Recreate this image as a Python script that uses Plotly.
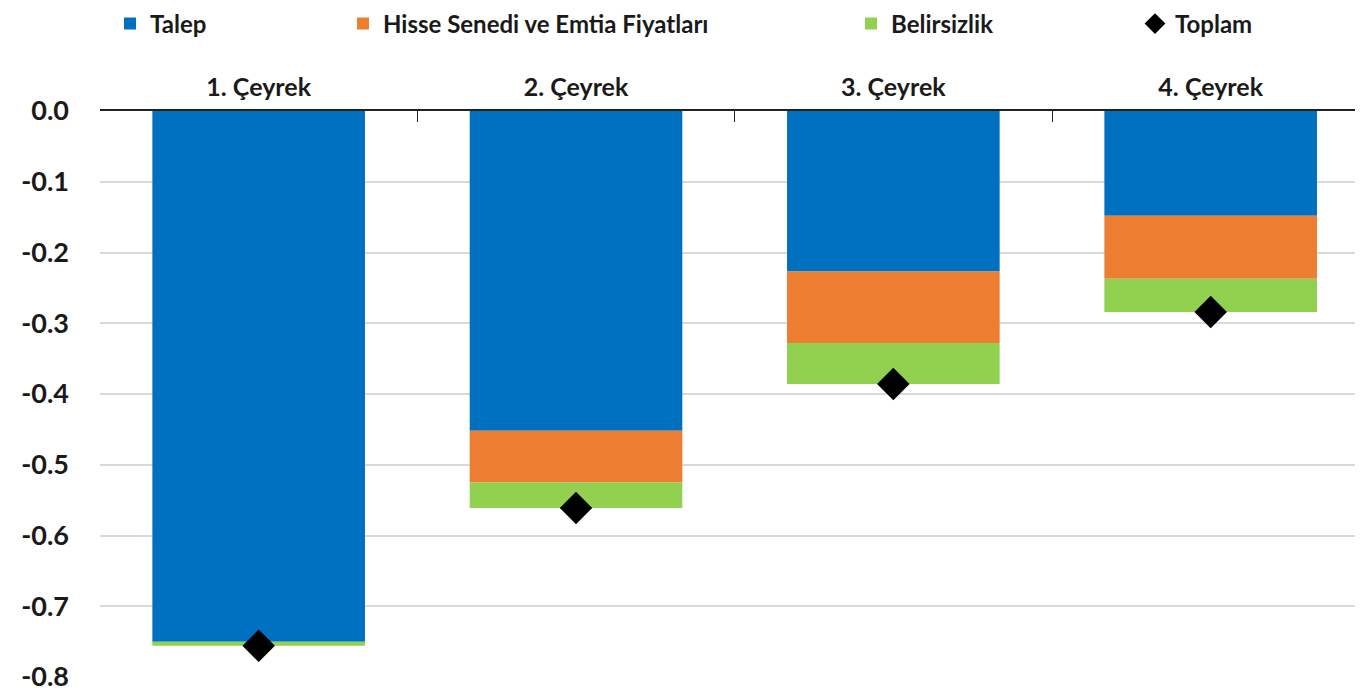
import plotly.graph_objects as go

categories = ["1. Çeyrek", "2. Çeyrek", "3. Çeyrek", "4. Çeyrek"]
talep = [-0.750, -0.452, -0.227, -0.148]
hisse = [0.000, -0.073, -0.101, -0.089]
belirsizlik = [-0.006, -0.036, -0.058, -0.047]
toplam = [-0.756, -0.561, -0.386, -0.284]
y_ticks = [0.0, -0.1, -0.2, -0.3, -0.4, -0.5, -0.6, -0.7, -0.8]
y_labels = ["0.0", "-0.1", "-0.2", "-0.3", "-0.4", "-0.5", "-0.6", "-0.7", "-0.8"]

FONT = "Lato, 'Open Sans', sans-serif"

fig = go.Figure()
fig.add_trace(go.Bar(x=categories, y=talep, name="Talep", marker_color="#0070C0",
                     marker_line_width=0, width=0.67, legend="legend"))
fig.add_trace(go.Bar(x=categories, y=hisse, name="Hisse Senedi ve Emtia Fiyatları",
                     marker_color="#ED7D31", marker_line_width=0, width=0.67, legend="legend2"))
fig.add_trace(go.Bar(x=categories, y=belirsizlik, name="Belirsizlik", marker_color="#92D050",
                     marker_line_width=0, width=0.67, legend="legend3"))
fig.add_trace(go.Scatter(x=categories, y=toplam, name="Toplam", mode="markers",
                         marker=dict(symbol="diamond", size=25, color="black"),
                         legend="legend4"))

# figure is offset by the page's 8px body margin; plot area spans 100..1363 x 111..677 on screen
W, H = 1355, 686
L, T, R, B = 92, 103, 0, 17
pw, ph = W - L - R, H - T - B


def px_to_paper_x(px):
    return (px - 8 - L) / pw


leg_common = dict(orientation="h", yanchor="middle", yref="container",
                  y=1 - (24 - 8) / H, xanchor="left",
                  font=dict(family=FONT, size=24, color="#1a1a1a", weight="bold"),
                  bgcolor="rgba(0,0,0,0)", itemwidth=30)

fig.update_layout(
    width=W, height=H,
    margin=dict(l=L, r=R, t=T, b=B, autoexpand=False),
    paper_bgcolor="white", plot_bgcolor="white",
    barmode="relative",
    showlegend=True,
    legend=dict(x=px_to_paper_x(110), **leg_common),
    legend2=dict(x=px_to_paper_x(343), **leg_common),
    legend3=dict(x=px_to_paper_x(851), **leg_common),
    legend4=dict(x=px_to_paper_x(1135), **leg_common),
    xaxis=dict(side="top", type="category", range=[-0.5, 3.48],
               showline=True, linecolor="#222222", linewidth=1.5,
               ticks="inside", tickson="boundaries", ticklen=11, tickwidth=1.2,
               tickcolor="#222222", showgrid=False, ticklabelstandoff=3,
               tickfont=dict(family=FONT, size=25, color="#1a1a1a", weight="bold")),
    yaxis=dict(range=[-0.8, 0.0], tickvals=y_ticks, ticktext=y_labels,
               showgrid=True, gridcolor="#d9d9d9", gridwidth=1.5,
               zeroline=False, showline=False, ticks="",
               ticklabelstandoff=30,
               tickfont=dict(family=FONT, size=27, color="#1a1a1a", weight="bold")),
)

fig.write_html("out.html")
